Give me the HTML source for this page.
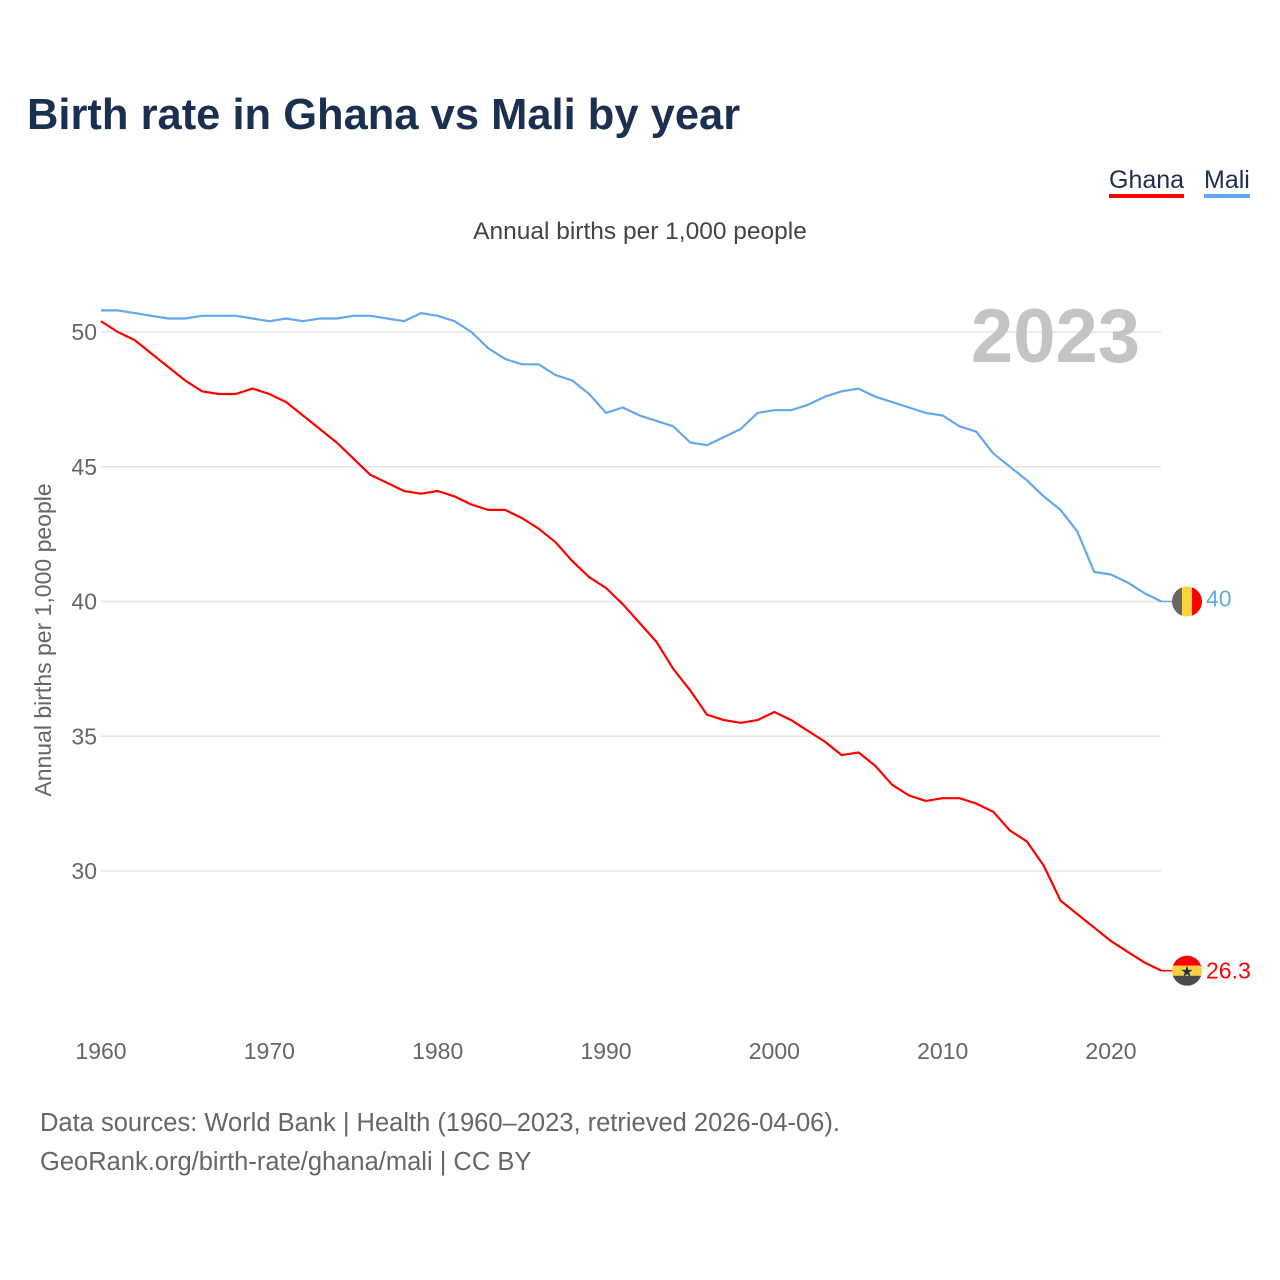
<!DOCTYPE html>
<html><head><meta charset="utf-8">
<style>
html,body{margin:0;padding:0;background:#fff;}
body{width:1280px;height:1280px;position:relative;overflow:hidden;font-family:"Liberation Sans",sans-serif;}
.t{position:absolute;white-space:nowrap;}
</style></head>
<body>
<div class="t" style="left:27px;top:91px;font-size:43.5px;font-weight:bold;color:#1b3050;">Birth rate in Ghana vs Mali by year</div>
<div class="t" style="left:1109px;top:166px;font-size:25px;color:#1b3050;border-bottom:4px solid #ff0000;line-height:28px;">Ghana</div>
<div class="t" style="left:1204px;top:166px;font-size:25px;color:#1b3050;border-bottom:4px solid #63a8ec;line-height:28px;">Mali</div>
<div class="t" style="left:0;width:1280px;text-align:center;top:218px;font-size:24.5px;color:#444;">Annual births per 1,000 people</div>
<div class="t" style="left:40px;top:1104px;font-size:25.5px;color:#666;line-height:39px;">Data sources: World Bank | Health (1960–2023, retrieved 2026-04-06).<br>GeoRank.org/birth-rate/ghana/mali | CC BY</div>
<svg id="chart" width="1280" height="1280" style="position:absolute;left:0;top:0;" font-family="Liberation Sans, sans-serif"></svg>
<script>
const years = [];
for (let y = 1960; y <= 2023; y++) years.push(y);
const ghana = [50.4,50.0,49.7,49.2,48.7,48.2,47.8,47.7,47.7,47.9,47.7,47.4,46.9,46.4,45.9,45.3,44.7,44.4,44.1,44.0,44.1,43.9,43.6,43.4,43.4,43.1,42.7,42.2,41.5,40.9,40.5,39.9,39.2,38.5,37.5,36.7,35.8,35.6,35.5,35.6,35.9,35.6,35.2,34.8,34.3,34.4,33.9,33.2,32.8,32.6,32.7,32.7,32.5,32.2,31.5,31.1,30.2,28.9,28.4,27.9,27.4,27.0,26.6,26.3];
const mali = [50.8,50.8,50.7,50.6,50.5,50.5,50.6,50.6,50.6,50.5,50.4,50.5,50.4,50.5,50.5,50.6,50.6,50.5,50.4,50.7,50.6,50.4,50.0,49.4,49.0,48.8,48.8,48.4,48.2,47.7,47.0,47.2,46.9,46.7,46.5,45.9,45.8,46.1,46.4,47.0,47.1,47.1,47.3,47.6,47.8,47.9,47.6,47.4,47.2,47.0,46.9,46.5,46.3,45.5,45.0,44.5,43.9,43.4,42.6,41.1,41.0,40.7,40.3,40.0];
const yTicks = [30,35,40,45,50];
const xTicks = [1960,1970,1980,1990,2000,2010,2020];
const ghanaLabel = "26.3";
const maliLabel = "40";

const svg = document.getElementById('chart');
const NS = 'http://www.w3.org/2000/svg';
const X = yr => 101 + (yr - 1960) * (1010 / 60);
const Y = v => 332 + (50 - v) * 26.95;
function mk(tag, attrs, txt) {
  const e = document.createElementNS(NS, tag);
  for (const k in attrs) e.setAttribute(k, attrs[k]);
  if (txt !== undefined) e.textContent = txt;
  svg.appendChild(e);
  return e;
}
yTicks.forEach(v => {
  const g = mk('line', {x1: 101, x2: 1161, y1: Y(v), y2: Y(v), stroke: '#e6e6e6', 'stroke-width': 1.5});
  
  
  const t = mk('text', {x: 97, y: Y(v) + 8, 'text-anchor': 'end', 'font-size': 23, fill: '#666'}, v);
  
  
});
xTicks.forEach(v => {
  const t = mk('text', {x: X(v), y: 1059, 'text-anchor': 'middle', 'font-size': 23, fill: '#666'}, v);
  
  
});
const yt = mk('text', {x: 0, y: 0, transform: 'translate(51,640) rotate(-90)', 'text-anchor': 'middle', 'font-size': 23, fill: '#666'}, 'Annual births per 1,000 people');


const yr = mk('text', {x: 1140, y: 362, 'text-anchor': 'end', 'font-size': 76, 'font-weight': 'bold', fill: '#c4c4c4'}, '2023');



function series(vals, color, name) {
  const d = vals.map((v, i) => (i ? 'L' : 'M') + X(years[i]).toFixed(1) + ',' + Y(v).toFixed(1)).join('');
  const p = mk('path', {d: d, fill: 'none', stroke: color, 'stroke-width': 2.2, 'stroke-linejoin': 'round'});
  
  
}
series(mali, '#63a8ec', 'line-mali');
series(ghana, '#ff0000', 'line-ghana');

const lastX = X(2023);
const gy = Y(ghana[ghana.length - 1]), my = Y(mali[mali.length - 1]);
const cx = 1187;
mk('line', {x1: lastX, x2: cx - 14, y1: gy, y2: gy, stroke: '#ff0000', 'stroke-width': 1.5});
mk('line', {x1: lastX, x2: cx - 14, y1: my, y2: my, stroke: '#63a8ec', 'stroke-width': 1.5});
const defs = mk('defs', {});
const cp1 = document.createElementNS(NS, 'clipPath'); cp1.setAttribute('id', 'cg');
const c1 = document.createElementNS(NS, 'circle'); c1.setAttribute('cx', cx); c1.setAttribute('cy', gy); c1.setAttribute('r', 15);
cp1.appendChild(c1); defs.appendChild(cp1);
const cp2 = document.createElementNS(NS, 'clipPath'); cp2.setAttribute('id', 'cm');
const c2 = document.createElementNS(NS, 'circle'); c2.setAttribute('cx', cx); c2.setAttribute('cy', my); c2.setAttribute('r', 15);
cp2.appendChild(c2); defs.appendChild(cp2);
const fg = mk('g', {'clip-path': 'url(#cg)'});


[['#ff0000', 0], ['#fcd03e', 1], ['#484c44', 2]].forEach(([c, i]) => {
  const r = document.createElementNS(NS, 'rect');
  r.setAttribute('x', cx - 15); r.setAttribute('y', gy - 15 + i * 10); r.setAttribute('width', 30); r.setAttribute('height', 10); r.setAttribute('fill', c);
  fg.appendChild(r);
});
const star = mk('text', {x: cx, y: gy + 6, 'text-anchor': 'middle', 'font-size': 15, fill: '#1b3050', 'font-family': 'DejaVu Sans, sans-serif'}, '★');
const fm = mk('g', {'clip-path': 'url(#cm)'});


[['#666666', 0], ['#fcd43e', 1], ['#ff0000', 2]].forEach(([c, i]) => {
  const r = document.createElementNS(NS, 'rect');
  r.setAttribute('x', cx - 15 + i * 10); r.setAttribute('y', my - 15); r.setAttribute('width', 10); r.setAttribute('height', 30); r.setAttribute('fill', c);
  fm.appendChild(r);
});
const gl = mk('text', {x: 1206, y: gy + 8, 'font-size': 23, fill: '#ff0000'}, ghanaLabel);


const ml = mk('text', {x: 1206, y: my + 5, 'font-size': 23, fill: '#63a8ec'}, maliLabel);


</script>
</body></html>
